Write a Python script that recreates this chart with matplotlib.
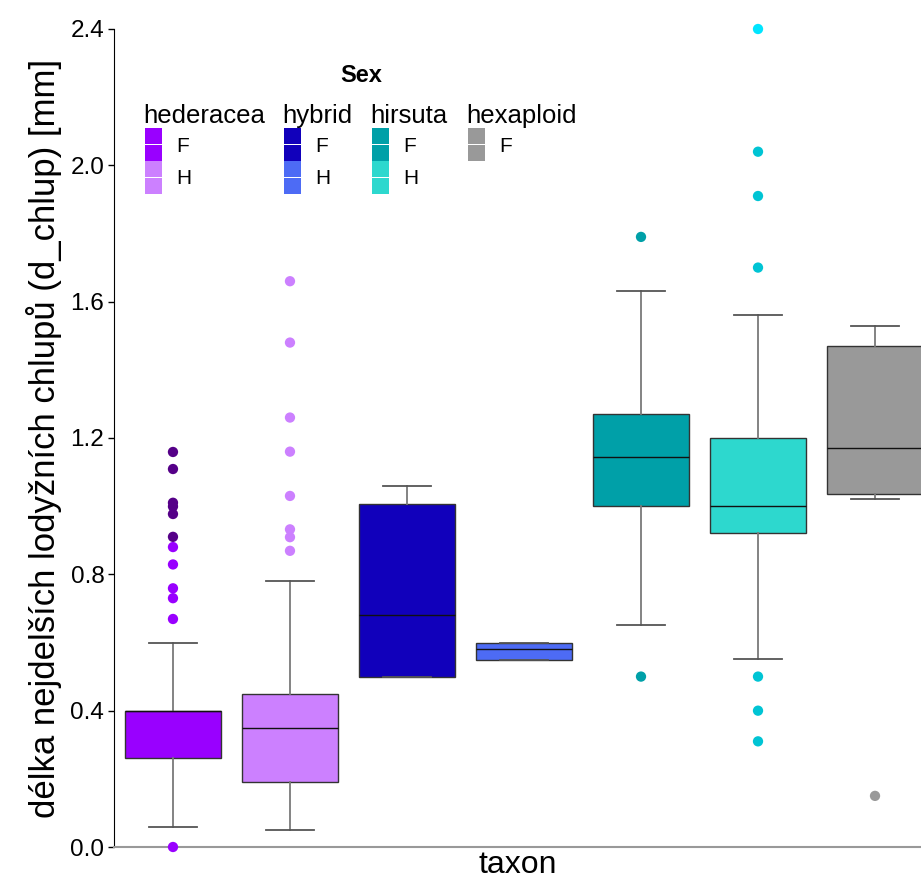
import matplotlib.pyplot as plt
from matplotlib.patches import Rectangle

plt.rcParams['font.family'] = ['Liberation Sans', 'DejaVu Sans']

# box statistics
taxa = ['hederacea', 'hederacea', 'hybrid', 'hybrid', 'hirsuta', 'hirsuta', 'hexaploid']
sexes = ['F', 'H', 'F', 'H', 'F', 'H', 'F']
q1 = [0.26, 0.19, 0.50, 0.55, 1.00, 0.92, 1.035]
med = [0.40, 0.35, 0.68, 0.58, 1.145, 1.00, 1.17]
q3 = [0.40, 0.45, 1.005, 0.60, 1.27, 1.20, 1.47]
whislo = [0.06, 0.05, 0.50, 0.55, 0.65, 0.553, 1.022]
whishi = [0.60, 0.78, 1.06, 0.60, 1.63, 1.56, 1.53]
box_colors = ['#9900FF', '#CC80FF', '#1100BB', '#4D6BF5', '#00A0A8', '#2DD8CE', '#999999']

# outliers: (box index, value, colour)
out_box = [0, 0, 0, 0, 0, 0, 0, 0, 0, 0, 0, 0,
           1, 1, 1, 1, 1, 1, 1, 1,
           4, 4,
           5, 5, 5, 5, 5, 5, 5,
           6]
out_val = [1.159, 1.109, 1.010, 0.999, 0.977, 0.910, 0.880, 0.829, 0.759, 0.730, 0.669, 0.0,
           1.66, 1.48, 1.26, 1.16, 1.03, 0.932, 0.909, 0.869,
           1.79, 0.50,
           2.40, 2.04, 1.91, 1.70, 0.50, 0.40, 0.31,
           0.15]
out_col = ['#550088'] * 6 + ['#9900FF'] * 6 + ['#CC80FF'] * 8 + ['#00A0A8'] * 2 + \
          ['#00E5FF'] + ['#00C4D4'] * 6 + ['#999999']

# legend
leg_groups = ['hederacea', 'hybrid', 'hirsuta', 'hexaploid']
leg_entries = [[('F', '#9900FF'), ('H', '#CC80FF')],
               [('F', '#1100BB'), ('H', '#4D6BF5')],
               [('F', '#00A0A8'), ('H', '#2DD8CE')],
               [('F', '#999999')]]
leg_x = [145, 284, 372, 468]

W, H = 921, 886
fig = plt.figure(figsize=(W / 100, H / 100), dpi=100)
ax = fig.add_axes([114 / W, 1 - 847 / H, 1 - 114 / W, (847 - 29) / H])

stats = []
for i in range(len(taxa)):
    stats.append(dict(q1=q1[i], med=med[i], q3=q3[i], whislo=whislo[i], whishi=whishi[i],
                      fliers=[], label=taxa[i] + ' ' + sexes[i]))
bp = ax.bxp(stats, positions=range(len(taxa)), widths=0.82, capwidths=0.41,
            patch_artist=True, showfliers=False,
            boxprops=dict(edgecolor='#333333', linewidth=1.0),
            whiskerprops=dict(color='#7a7a7a', linewidth=1.3),
            capprops=dict(color='#555555', linewidth=1.3),
            medianprops=dict(color='#111111', linewidth=1.0))
for patch, c in zip(bp['boxes'], box_colors):
    patch.set_facecolor(c)

ax.scatter(out_box, out_val, c=out_col, s=55, edgecolors='none', zorder=4, clip_on=False)

ax.set_xlim(-0.504, 6.393)
ax.set_ylim(0, 2.4)
ax.set_yticks([0.0, 0.4, 0.8, 1.2, 1.6, 2.0, 2.4])
ax.set_yticklabels(['0.0', '0.4', '0.8', '1.2', '1.6', '2.0', '2.4'])
ax.tick_params(axis='y', labelsize=17.5, length=4, width=1, pad=3)
ax.set_xticks([])
ax.set_xlabel('taxon', fontsize=23, labelpad=2)
ax.set_ylabel('délka nejdelších lodyžních chlupů (d_chlup) [mm]', fontsize=25, labelpad=6)
for s in ['top', 'right']:
    ax.spines[s].set_visible(False)
ax.spines['left'].set_color('black')
ax.spines['bottom'].set_color('#999999')
ax.spines['bottom'].set_linewidth(1.5)


def fx(x):
    return x / W


def fy(y):
    return 1 - y / H


fig.text(fx(361), fy(75), 'Sex', fontsize=17, fontweight='bold', ha='center', va='center')
for g, entries, x in zip(leg_groups, leg_entries, leg_x):
    fig.text(fx(x - 2), fy(116), g, fontsize=18.5, ha='left', va='center')
    for k, (lab, c) in enumerate(entries):
        top = 128 + k * 33
        for half in range(2):
            y0 = top + half * 16.5
            fig.patches.append(Rectangle((fx(x), fy(y0 + 16)), 17 / W, 16 / H,
                                         transform=fig.transFigure, facecolor=c,
                                         edgecolor='none'))
        fig.text(fx(x + 31), fy(top + 18), lab, fontsize=15, ha='left', va='center')

fig.savefig('out.png', dpi=100)
